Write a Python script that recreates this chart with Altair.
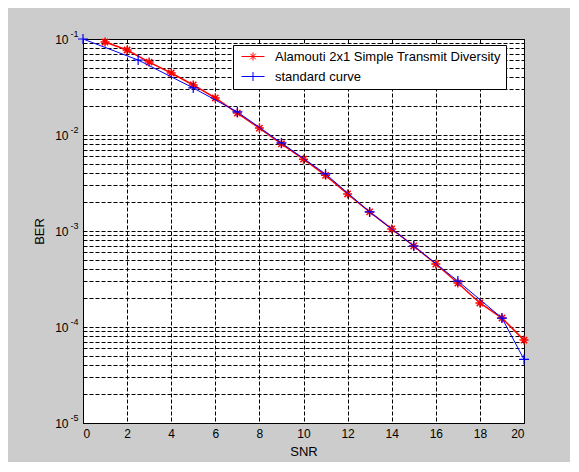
import altair as alt
import pandas as pd

# ---- data ----
red_name = "\u00a0Alamouti 2x1 Simple Transmit Diversity"
blue_name = "standard curve"

red_x = list(range(1, 21))
red_y = [0.093, 0.0768, 0.0575, 0.0442, 0.0332, 0.0243, 0.0169, 0.0118, 0.0081, 0.0056,
         0.0038, 0.00243, 0.00158, 0.00105, 0.000698, 0.000453, 0.000287, 0.000178,
         0.000124, 7.3e-5]

blue_x = [0, 2.5, 5, 7, 9, 11, 13, 15, 17, 19, 20]
blue_y = [0.1, 0.0604, 0.0309, 0.0174, 0.00826, 0.00393, 0.00158, 0.000698,
          0.000301, 0.000124, 4.6e-5]

x_ticks = list(range(0, 21, 2))
y_grid = [m * 10.0 ** e for e in range(-5, -1) for m in range(1, 10)] + [0.1]
y_major = [1e-5, 1e-4, 1e-3, 1e-2, 1e-1]

red_df = pd.DataFrame({"SNR": red_x, "BER": red_y, "series": red_name})
blue_df = pd.DataFrame({"SNR": blue_x, "BER": blue_y, "series": blue_name})
legend_df = pd.DataFrame({"SNR": [0, 0], "BER": [0.1, 0.1], "series": [red_name, blue_name]})

RED = "#ff0000"
BLUE = "#0000ff"
ASTERISK = "M0,-1L0,1M-1,0L1,0M-0.7,-0.7L0.7,0.7M-0.7,0.7L0.7,-0.7"
PLUS = "M0,-1L0,1M-1,0L1,0"
LEG_RED = ("M-0.6,0L4,0M1.7,-0.8L1.7,0.8M0.9,0L2.5,0"
           "M1.13,-0.57L2.27,0.57M1.13,0.57L2.27,-0.57")
LEG_BLUE = "M-0.6,0L4,0M1.7,-0.9L1.7,0.9M0.8,0L2.6,0"

EXP = "round(log(datum.value)/LN10)"
x_enc = alt.X("SNR:Q", scale=alt.Scale(domain=[0, 20], nice=False),
              axis=alt.Axis(values=x_ticks, title="SNR", format="d"))
y_scale = alt.Scale(type="log", domain=[1e-5, 0.1], nice=False)
y_enc = alt.Y("BER:Q", scale=y_scale,
              axis=alt.Axis(values=y_grid, title="BER", orient="left", labelPadding=15,
                            labelExpr=f"abs(log(datum.value)/LN10 - {EXP}) < 0.001 ? '10' : ''"))
y_exp = alt.Y("BER:Q", scale=y_scale,
              axis=alt.Axis(values=y_major, title=None, orient="left", grid=False, domain=False,
                            labelPadding=5, labelFontSize=9, labelOffset=-6,
                            labelExpr=f"'' + {EXP}"))

red_line = alt.Chart(red_df).mark_line(color=RED, strokeWidth=1.5).encode(x=x_enc, y=y_enc)
red_pts = alt.Chart(red_df).mark_point(shape=ASTERISK, filled=False, color=RED, size=81,
                                       strokeWidth=1.5, opacity=1).encode(x=x_enc, y=y_enc)
blue_line = alt.Chart(blue_df).mark_line(color=BLUE, strokeWidth=1).encode(x=x_enc, y=y_enc)
blue_pts = alt.Chart(blue_df).mark_point(shape=PLUS, filled=False, color=BLUE, size=100,
                                         strokeWidth=1.2, opacity=1).encode(x=x_enc, y=y_enc)

leg = alt.Legend(title=None, orient="none", legendX=150, legendY=6,
                 symbolOpacity=1, symbolStrokeWidth=1, symbolSize=100,
                 labelOffset=24, rowPadding=6, padding=5,
                 fillColor="white", strokeColor="black", labelLimit=400)
legend_layer = alt.Chart(legend_df).mark_point(filled=False, opacity=0).encode(
    x=x_enc, y=y_exp,
    color=alt.Color("series:N", scale=alt.Scale(domain=[red_name, blue_name], range=[RED, BLUE]), legend=leg),
    shape=alt.Shape("series:N", scale=alt.Scale(domain=[red_name, blue_name], range=[LEG_RED, LEG_BLUE]), legend=leg),
)

main = alt.layer(red_line, red_pts, blue_line, blue_pts)

chart = alt.layer(main, legend_layer).resolve_scale(y="shared").resolve_axis(y="independent").properties(
    width=441, height=384,
    autosize=alt.AutoSizeParams(type="none"),
    padding={"left": 75, "top": 31, "right": 46, "bottom": 39},
    background="#cccccc",
).configure_view(
    stroke="black", strokeWidth=1, fill="white"
).configure_axis(
    labelFont="Liberation Sans", labelFontSize=12, labelColor="black",
    titleFont="Liberation Sans", titleFontSize=13, titleFontWeight="normal", titleColor="black",
    ticks=False, grid=True, gridColor="black", gridDash=[4, 2], gridOpacity=1, gridWidth=1,
    domainColor="black", domainWidth=1,
).configure_axisX(
    labelPadding=5, titlePadding=6
).configure_axisY(
    titlePadding=8
).configure_legend(
    labelFont="Liberation Sans", labelFontSize=13, labelColor="black", cornerRadius=0
)

chart.save("out.html", embed_options={"renderer": "svg", "actions": False})
